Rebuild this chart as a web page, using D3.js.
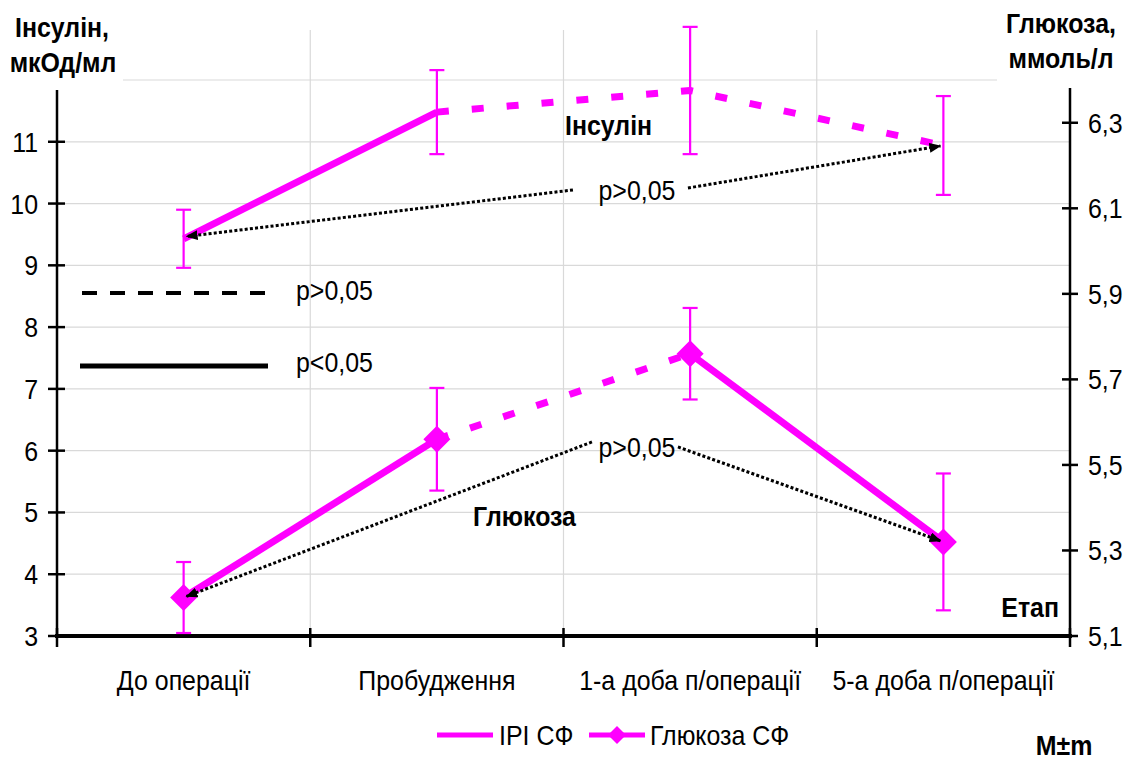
<!DOCTYPE html>
<html>
<head>
<meta charset="utf-8">
<script src="https://cdn.jsdelivr.net/npm/d3@7"></script>
<style>
  html, body { margin: 0; padding: 0; background: #fff; }
  svg { display: block; }
</style>
</head>
<body>
<svg id="chart" width="1131" height="760"></svg>
<script>
// Stages of observation
const categories = ["До операції", "Пробудження", "1-а доба п/операції", "5-а доба п/операції"];

// Insulin (left axis, мкОд/мл), mean and m
const insulinMean = [9.43, 11.48, 11.83, 10.94];
const insulinErr  = [0.47, 0.68, 1.03, 0.80];

// Glucose (right axis, ммоль/л), mean and m
const glucoseMean = [5.19, 5.56, 5.76, 5.32];
const glucoseErr  = [0.083, 0.12, 0.107, 0.16];

// Segment significance between neighbouring stages (true = p>0,05, dashed)
const insulinDashed = [false, true, true];
const glucoseDashed = [false, true, false];

// Axis ticks
const leftTicks = [3, 4, 5, 6, 7, 8, 9, 10, 11];
const leftGrid = [4, 5, 6, 7, 8, 9, 10, 11, 12];
const rightTicks = [5.1, 5.3, 5.5, 5.7, 5.9, 6.1, 6.3];
const rightTickLabels = ["5,1", "5,3", "5,5", "5,7", "5,9", "6,1", "6,3"];

const MAGENTA = "#ff00ff";
const FONT = "'Liberation Sans', Arial, sans-serif";
const SX = 0.89;

const svg = d3.select("#chart");
const plotLeft = 57, plotRight = 1070, plotBottom = 636, plotTop = 30, gridTop = 80;

const x = d3.scaleBand().domain(categories).range([plotLeft, plotRight]).paddingInner(0).paddingOuter(0);
const cx = c => x(c) + x.bandwidth() / 2;
const xPos = d3.scaleLinear().domain([-0.5, categories.length - 0.5]).range([plotLeft, plotRight]);
const yL = d3.scaleLinear().domain([3, 12]).range([plotBottom, gridTop]);
const yR = d3.scaleLinear().domain([5.1, 6.4]).range([plotBottom, gridTop]);

function label(parent, px, py, s, o = {}) {
  return parent.append("text")
    .attr("transform", `translate(${px},${py}) scale(${o.sx || SX},1)`)
    .attr("text-anchor", o.anchor || "start")
    .attr("font-family", FONT)
    .attr("font-size", o.size || 28)
    .attr("font-weight", o.weight || "normal")
    .attr("fill", "#000")
    .text(s);
}

// arrowhead
const defs = svg.append("defs");
defs.append("marker")
  .attr("id", "arrowHead")
  .attr("viewBox", "0 0 12 10")
  .attr("refX", 11).attr("refY", 5)
  .attr("markerWidth", 12).attr("markerHeight", 10)
  .attr("markerUnits", "userSpaceOnUse")
  .attr("orient", "auto")
  .append("path").attr("d", "M0,0 L12,5 L0,10 Z").attr("fill", "#000");

// Gridlines
const grid = svg.append("g").attr("stroke", "#d9d9d9").attr("stroke-width", 1.2);
grid.selectAll("line.h").data(leftGrid).join("line")
  .attr("x1", plotLeft).attr("x2", plotRight)
  .attr("y1", d => yL(d)).attr("y2", d => yL(d));
grid.selectAll("line.v").data(categories.slice(1)).join("line")
  .attr("x1", d => x(d)).attr("x2", d => x(d))
  .attr("y1", plotTop).attr("y2", plotBottom);

// Axis lines
const axisG = svg.append("g").attr("stroke", "#000").attr("fill", "none");
axisG.append("line").attr("x1", plotLeft).attr("x2", plotLeft).attr("y1", plotTop).attr("y2", plotBottom).attr("stroke-width", 2.5);
axisG.append("line").attr("x1", plotRight).attr("x2", plotRight).attr("y1", plotTop).attr("y2", plotBottom).attr("stroke-width", 2.5);
axisG.append("line").attr("x1", plotLeft - 2).attr("x2", plotRight + 2).attr("y1", plotBottom).attr("y2", plotBottom).attr("stroke-width", 4);

// Crossing ticks
axisG.selectAll("line.lt").data(leftTicks).join("line")
  .attr("x1", plotLeft - 9).attr("x2", plotLeft + 8)
  .attr("y1", d => yL(d)).attr("y2", d => yL(d)).attr("stroke-width", 2.5);
axisG.selectAll("line.rt").data(rightTicks).join("line")
  .attr("x1", plotRight - 8).attr("x2", plotRight + 8)
  .attr("y1", d => yR(d)).attr("y2", d => yR(d)).attr("stroke-width", 2.5);
const bounds = categories.map(c => x(c)).concat([plotRight]);
axisG.selectAll("line.bt").data(bounds).join("line")
  .attr("x1", d => d).attr("x2", d => d)
  .attr("y1", plotBottom - 8).attr("y2", plotBottom + 11).attr("stroke-width", 2.5);

// Tick labels
const tl = svg.append("g");
leftTicks.forEach(v => label(tl, 38, yL(v) + 10, String(v), { anchor: "end" }));
rightTicks.forEach((v, i) => label(tl, 1088, yR(v) + 10, rightTickLabels[i]));
categories.forEach(c => label(tl, cx(c), 690, c, { anchor: "middle" }));

// Axis titles on white blocks
svg.append("rect").attr("x", 0).attr("y", 0).attr("width", 123).attr("height", 90).attr("fill", "#fff");
svg.append("rect").attr("x", 997).attr("y", 0).attr("width", 134).attr("height", 88).attr("fill", "#fff");
label(svg, 62, 37, "Інсулін,", { anchor: "middle", weight: "bold" });
label(svg, 63, 72, "мкОд/мл", { anchor: "middle", weight: "bold" });
label(svg, 1061, 33, "Глюкоза,", { anchor: "middle", weight: "bold" });
label(svg, 1061, 68, "ммоль/л", { anchor: "middle", weight: "bold" });
label(svg, 1059, 617, "Етап", { anchor: "end", weight: "bold" });
label(svg, 1064, 755, "M±m", { anchor: "middle", weight: "bold" });

// Series lines split into runs of equal style
function runs(flags) {
  const out = [];
  let start = 0;
  for (let i = 1; i <= flags.length; i++) {
    if (i === flags.length || flags[i] !== flags[start]) {
      out.push({ from: start, to: i, dashed: flags[start] });
      start = i;
    }
  }
  return out;
}
function drawSeries(means, errs, flags, yScale, withMarkers) {
  const g = svg.append("g");
  const line = d3.line().x(d => cx(d.c)).y(d => yScale(d.v));
  const pts = categories.map((c, i) => ({ c, v: means[i], e: errs[i] }));
  runs(flags).forEach(r => {
    g.append("path")
      .attr("d", line(pts.slice(r.from, r.to + 1)))
      .attr("fill", "none")
      .attr("stroke", MAGENTA)
      .attr("stroke-width", 7)
      .attr("stroke-linejoin", "round")
      .attr("stroke-dasharray", r.dashed ? "12,23" : null);
  });
  // error bars
  const eb = g.append("g").attr("stroke", MAGENTA).attr("stroke-width", 2.2);
  pts.forEach(p => {
    const xx = cx(p.c), y1 = yScale(p.v + p.e), y2 = yScale(p.v - p.e);
    eb.append("line").attr("x1", xx).attr("x2", xx).attr("y1", y1).attr("y2", y2);
    eb.append("line").attr("x1", xx - 7.5).attr("x2", xx + 7.5).attr("y1", y1).attr("y2", y1);
    eb.append("line").attr("x1", xx - 7.5).attr("x2", xx + 7.5).attr("y1", y2).attr("y2", y2);
  });
  if (withMarkers) {
    g.selectAll("path.m").data(pts).join("path")
      .attr("d", d => {
        const xx = cx(d.c), yy = yScale(d.v), h = 13.5;
        return `M${xx},${yy - h}L${xx + h},${yy}L${xx},${yy + h}L${xx - h},${yy}Z`;
      })
      .attr("fill", MAGENTA);
  }
  return pts;
}
drawSeries(insulinMean, insulinErr, insulinDashed, yL, false);
drawSeries(glucoseMean, glucoseErr, glucoseDashed, yR, true);

// Series captions
label(svg, 565, 135, "Інсулін", { weight: "bold" });
label(svg, 473, 526, "Глюкоза", { weight: "bold" });

// Comparison arrows (first vs last stage), label at the bend
function comparison(lx, ly, leftStart, rightStart, y0, y3) {
  const g = svg.append("g");
  const ends = [
    { s: leftStart, t: [cx(categories[0]), y0] },
    { s: rightStart, t: [cx(categories[3]), y3] }
  ];
  ends.forEach(e => {
    const sx0 = lx + e.s[0], sy0 = ly + e.s[1];
    const dx = e.t[0] - sx0, dy = e.t[1] - sy0, len = Math.hypot(dx, dy);
    const tx = e.t[0] - dx / len * 3, ty = e.t[1] - dy / len * 3;
    g.append("line")
      .attr("x1", sx0).attr("y1", sy0).attr("x2", tx).attr("y2", ty)
      .attr("stroke", "#000").attr("stroke-width", 3)
      .attr("stroke-dasharray", "3,2.2")
      .attr("marker-end", "url(#arrowHead)");
  });
  label(g, lx, ly + 10, "p>0,05", { anchor: "middle" });
}
comparison(xPos(1.79), yL(10.22), [-64, 0], [51, -2], yL(insulinMean[0]) - 2, yL(insulinMean[3]));
comparison(xPos(1.79), yR(5.542), [-45, -5], [41, 0], yR(glucoseMean[0]), yR(glucoseMean[3]));

// Significance key inside the plot
const key = svg.append("g");
key.append("line").attr("x1", 82).attr("x2", 268).attr("y1", 293).attr("y2", 293)
  .attr("stroke", "#000").attr("stroke-width", 4).attr("stroke-dasharray", "15,13");
key.append("line").attr("x1", 80).attr("x2", 268).attr("y1", 366).attr("y2", 366)
  .attr("stroke", "#000").attr("stroke-width", 5);
label(key, 296, 300, "p>0,05");
label(key, 296, 372, "p<0,05");

// Series legend
const leg = svg.append("g");
leg.append("line").attr("x1", 437).attr("x2", 493).attr("y1", 735).attr("y2", 735)
  .attr("stroke", MAGENTA).attr("stroke-width", 5);
label(leg, 499, 745, "IPI СФ");
leg.append("line").attr("x1", 589).attr("x2", 645).attr("y1", 735).attr("y2", 735)
  .attr("stroke", MAGENTA).attr("stroke-width", 5);
leg.append("path").attr("d", "M617,726L626,735L617,744L608,735Z").attr("fill", MAGENTA);
label(leg, 650, 745, "Глюкоза СФ");
</script>
</body>
</html>
